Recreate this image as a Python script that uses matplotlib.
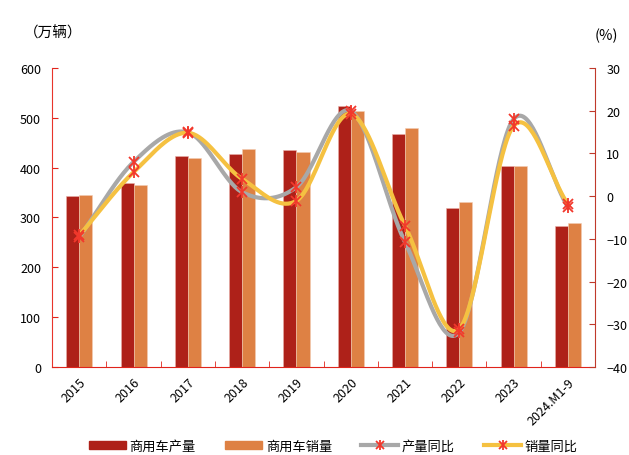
import numpy as np
import matplotlib.pyplot as plt
from matplotlib.lines import Line2D
from matplotlib.patches import Patch
from matplotlib.legend_handler import HandlerTuple

plt.rcParams['font.family'] = ['Noto Sans CJK SC', 'DejaVu Sans']

years = ["2015", "2016", "2017", "2018", "2019", "2020", "2021", "2022", "2023", "2024.M1-9"]
production = [342, 369, 424, 428, 436, 523, 467, 318, 404, 283]
sales = [345, 365, 419, 437, 432, 513, 479, 330, 403, 289]
prod_yoy = [-9.6, 8.0, 14.9, 0.9, 2.1, 19.9, -10.8, -31.9, 18.0, -2.6]
sales_yoy = [-9.2, 5.6, 14.8, 4.0, -1.1, 19.2, -7.0, -31.1, 16.4, -1.9]

C_PROD = "#AE2119"
C_SALE = "#DE8144"
C_GRAY = "#A8A8A8"
C_YEL = "#F5C141"
C_MARK = "#F2382C"


def smooth(x, y, n=40):
    # Catmull-Rom style smoothing like Excel's smoothed line
    x = np.asarray(x, float)
    y = np.asarray(y, float)
    px = np.concatenate([[2 * x[0] - x[1]], x, [2 * x[-1] - x[-2]]])
    py = np.concatenate([[2 * y[0] - y[1]], y, [2 * y[-1] - y[-2]]])
    xs, ys = [], []
    t = np.linspace(0, 1, n)
    for i in range(1, len(px) - 2):
        for p, out in ((px, xs), (py, ys)):
            p0, p1, p2, p3 = p[i - 1], p[i], p[i + 1], p[i + 2]
            out.append(0.5 * (2 * p1 + (-p0 + p2) * t
                              + (2 * p0 - 5 * p1 + 4 * p2 - p3) * t ** 2
                              + (-p0 + 3 * p1 - 3 * p2 + p3) * t ** 3))
    return np.concatenate(xs), np.concatenate(ys)


def star(ax, xv, yv):
    # Excel "star" marker: an x with a vertical bar
    ax.plot(xv, yv, ls="none", marker="x", ms=6.5, mec=C_MARK, mew=1.3, zorder=5)
    ax.plot(xv, yv, ls="none", marker="|", ms=8, mec=C_MARK, mew=1.3, zorder=5)


fig = plt.figure(figsize=(6.29, 4.56), dpi=100)
ax = fig.add_axes([0.083, 0.193, 0.863, 0.656])
x = np.arange(len(years))
w = 0.24
ax.bar(x - w / 2, production, w, color=C_PROD, edgecolor="#E8B0A8", linewidth=0.4, zorder=2)
ax.bar(x + w / 2, sales, w, color=C_SALE, edgecolor="#F3CDB3", linewidth=0.4, zorder=2)
ax.set_xlim(-0.5, len(years) - 0.5)
ax.set_ylim(0, 600)
ax.set_yticks(range(0, 601, 100))
ax.set_xticks(x)
ax.set_xticklabels(years, rotation=45, ha="right", rotation_mode="anchor", fontsize=9)
ax.set_xticks(np.arange(-0.5, len(years), 1), minor=True)
ax.tick_params(axis="x", which="major", length=0, pad=6)
ax.tick_params(axis="x", which="minor", direction="in", length=4, color="#E0241B")
ax.tick_params(axis="y", direction="in", length=4, color="#E0241B", labelsize=9, pad=8)
for s in ["top", "right"]:
    ax.spines[s].set_visible(False)
ax.spines["left"].set_color("#E8352B")
ax.spines["bottom"].set_color("#E0241B")

ax2 = ax.twinx()
ax2.set_ylim(-40, 30)
ax2.set_yticks(range(-40, 31, 10))
ax2.tick_params(axis="y", direction="in", length=4, color="#C0392B", labelsize=9, pad=8)
for s in ["top", "left", "bottom"]:
    ax2.spines[s].set_visible(False)
ax2.spines["right"].set_color("#C0392B")

sx, sy = smooth(x, prod_yoy)
ax2.plot(sx, sy, color=C_GRAY, lw=3, solid_capstyle="round", zorder=3)
sx, sy = smooth(x, sales_yoy)
ax2.plot(sx, sy, color=C_YEL, lw=3, solid_capstyle="round", zorder=4)
star(ax2, x, prod_yoy)
star(ax2, x, sales_yoy)

fig.text(0.038, 0.927, "（万辆）", fontsize=10.5, va="center")
fig.text(0.946, 0.922, "(%)", fontsize=10.5, va="center")


def line_handle(color):
    base = Line2D([], [], color=color, lw=3)
    mx = Line2D([], [], ls="none", marker="x", ms=6, mec=C_MARK, mew=1.3)
    mv = Line2D([], [], ls="none", marker="|", ms=7.5, mec=C_MARK, mew=1.3)
    return (base, mx, mv)


handles = [Patch(color=C_PROD), Patch(color=C_SALE), line_handle(C_GRAY), line_handle(C_YEL)]
labels = ["商用车产量", "商用车销量", "产量同比", "销量同比"]
fig.legend(handles, labels, loc="center", bbox_to_anchor=(0.53, 0.02), ncol=4,
           frameon=False, fontsize=9.5, handlelength=2.8, handleheight=0.6,
           columnspacing=2.2, handletextpad=0.3,
           handler_map={tuple: HandlerTuple(ndivide=1, pad=0)})

fig.savefig("out.png", dpi=100)
